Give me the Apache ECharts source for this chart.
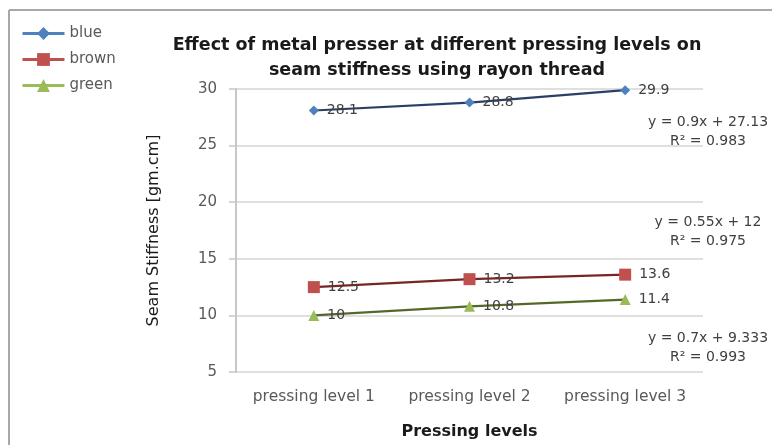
<!DOCTYPE html>
<html>
<head>
<meta charset="utf-8">
<script src="https://cdn.jsdelivr.net/npm/echarts@6/dist/echarts.min.js"></script>
<style>html,body{margin:0;padding:0;background:#fff}#c{width:772px;height:445px}</style>
</head>
<body>
<div id="c"></div>
<script>
const categories = ['pressing level 1', 'pressing level 2', 'pressing level 3'];
const blueValues = [28.1, 28.8, 29.9];
const brownValues = [12.5, 13.2, 13.6];
const greenValues = [10, 10.8, 11.4];
const yTicks = [5, 10, 15, 20, 25, 30];
const seriesNames = ['blue', 'brown', 'green'];
const trendTexts = [
  ['y = 0.9x + 27.13', 'R\u00b2 = 0.983'],
  ['y = 0.55x + 12', 'R\u00b2 = 0.975'],
  ['y = 0.7x + 9.333', 'R\u00b2 = 0.993']
];

const FONT = '"DejaVu Sans", sans-serif';
const markerColors = ['#4F81BD', '#C0504D', '#9BBB59'];
const lineColors = ['#2B3F66', '#7A2424', '#55682A'];
const symbols = ['diamond', 'rect', 'triangle'];
const symbolSizes = [10, 12, 11];
const allValues = [blueValues, brownValues, greenValues];
const trendY = [131, 231, 347];

const chart = echarts.init(document.getElementById('c'), null, {renderer: 'canvas'});

const series = allValues.map((vals, i) => ({
  name: seriesNames[i],
  type: 'line',
  data: vals,
  symbol: symbols[i],
  symbolSize: symbolSizes[i],
  itemStyle: {color: markerColors[i]},
  lineStyle: {color: lineColors[i], width: 2.2},
  label: {
    show: true, position: 'right', distance: 8,
    color: '#404040', fontFamily: FONT, fontSize: 14,
    formatter: p => String(p.value)
  },
  z: 3
}));

chart.setOption({
  backgroundColor: '#fff',
  animation: false,
  title: {
    text: 'Effect of metal presser at different pressing levels on\nseam stiffness using rayon thread',
    left: 432, top: 28, textAlign: 'center',
    textStyle: {fontFamily: FONT, fontSize: 17.5, fontWeight: 'bold', color: '#1a1a1a', lineHeight: 25}
  },
  legend: {
    orient: 'vertical', left: 16, top: 21, itemGap: 11,
    itemWidth: 42, itemHeight: 16,
    textStyle: {fontFamily: FONT, fontSize: 15, color: '#595959'},
    data: seriesNames.map((n, i) => ({name: n, lineStyle: {color: markerColors[i], width: 3}}))
  },
  grid: {left: 236, right: 69, top: 89, bottom: 71},
  xAxis: {
    type: 'category', data: categories, boundaryGap: true,
    name: 'Pressing levels', nameLocation: 'middle', nameGap: 52,
    nameTextStyle: {fontFamily: FONT, fontSize: 16, fontWeight: 'bold', color: '#1a1a1a'},
    axisLine: {show: false},
    axisTick: {show: false},
    axisLabel: {fontFamily: FONT, fontSize: 15.5, color: '#595959', margin: 17,
      interval: 0, hideOverlap: false}
  },
  yAxis: {
    type: 'value', min: yTicks[0], max: yTicks[yTicks.length - 1], interval: 5,
    name: 'Seam Stiffness [gm.cm]', nameLocation: 'middle', nameGap: 74,
    nameTextStyle: {fontFamily: FONT, fontSize: 16, color: '#1a1a1a'},
    axisLine: {show: true, lineStyle: {color: '#C8C8C8', width: 2}},
    axisTick: {show: true, length: 7, lineStyle: {color: '#C8C8C8', width: 1.5}},
    splitLine: {lineStyle: {color: '#D4D4D4', width: 1.5}},
    axisLabel: {fontFamily: FONT, fontSize: 15, color: '#595959', margin: 19,
      formatter: v => yTicks.includes(v) ? String(v) : ''}
  },
  graphic: [
    {type: 'line', shape: {x1: 9, y1: 10, x2: 9, y2: 445}, style: {stroke: '#A8A8A8', lineWidth: 2}},
    {type: 'line', shape: {x1: 9, y1: 10, x2: 772, y2: 10}, style: {stroke: '#A8A8A8', lineWidth: 2}}
  ].concat(trendTexts.map((t, i) => ({
    type: 'text', x: 708, y: trendY[i] - 18,
    style: {text: t[0] + '\n' + t[1], textAlign: 'center', fill: '#404040',
      font: '14px ' + FONT, lineHeight: 19}
  }))),
  series: series
});
</script>
</body>
</html>
